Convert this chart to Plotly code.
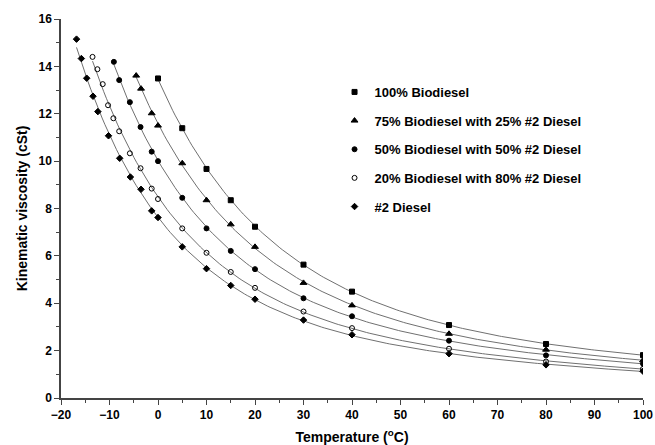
import numpy as np
import plotly.graph_objects as go

names = ["100% Biodiesel", "75% Biodiesel with 25% #2 Diesel",
         "50% Biodiesel with 50% #2 Diesel", "20% Biodiesel with 80% #2 Diesel",
         "#2 Diesel"]

t_b100 = [0, 5, 10, 15, 20, 30, 40, 60, 80, 100]
v_b100 = [13.49, 11.39, 9.67, 8.35, 7.23, 5.63, 4.49, 3.08, 2.28, 1.81]

t_b75 = [-4.5, -3.5, -1.3, 0, 5, 10, 15, 20, 30, 40, 60, 80, 100]
v_b75 = [13.61, 13.06, 12.02, 11.50, 9.91, 8.35, 7.33, 6.38, 4.86, 3.91, 2.71, 2.04, 1.59]

t_b50 = [-9.1, -8, -5.8, -3.6, -1.3, 0, 5, 10, 15, 20, 30, 40, 60, 80, 100]
v_b50 = [14.19, 13.42, 12.49, 11.44, 10.40, 10.0, 8.45, 7.16, 6.21, 5.44, 4.21, 3.45, 2.42, 1.80, 1.45]

t_b20 = [-13.5, -12.5, -11.4, -10.3, -9.2, -8, -5.8, -3.6, -1.3, 0, 5, 10, 15, 20, 30, 40, 60, 80, 100]
v_b20 = [14.40, 13.88, 13.25, 12.36, 11.81, 11.26, 10.33, 9.70, 8.84, 8.40, 7.16, 6.13, 5.32, 4.65, 3.65, 2.95, 2.08, 1.54, 1.23]

t_d2 = [-16.8, -15.8, -14.7, -13.4, -12.4, -10.2, -7.9, -5.7, -3.5, -1.3, 0, 5, 10, 15, 20, 30, 40, 60, 80, 100]
v_d2 = [15.15, 14.33, 13.5, 12.74, 12.09, 11.07, 10.12, 9.33, 8.81, 7.9, 7.62, 6.38, 5.46, 4.75, 4.17, 3.29, 2.67, 1.87, 1.40, 1.13]

x_ticks = list(range(-20, 101, 10))
y_ticks = list(range(0, 17, 2))

series = [(t_b100, v_b100), (t_b75, v_b75), (t_b50, v_b50), (t_b20, v_b20), (t_d2, v_d2)]
symbols = ["square", "triangle-up", "circle", "circle-open", "diamond"]
sizes = [5, 6, 5, 5, 5]

fig = go.Figure()
for (t, v), nm in zip(series, names):
    t = np.array(t, float); v = np.array(v, float)
    coef = np.polyfit(t, np.log(v), 3)
    tt = np.linspace(t.min(), t.max(), 200)
    fig.add_trace(go.Scatter(x=tt, y=np.exp(np.polyval(coef, tt)), mode="lines",
                             line=dict(color="#707070", width=1), showlegend=False,
                             hoverinfo="skip", legendgroup=nm))
for i, ((t, v), nm) in enumerate(zip(series, names)):
    fig.add_trace(go.Scatter(x=t, y=v, mode="markers", name=nm, legendgroup=nm,
                             marker=dict(symbol=symbols[i], size=sizes[i], color="black",
                                         line=dict(color="black", width=1))))

axis_common = dict(showgrid=False, zeroline=False, showline=True, linecolor="#444444",
                   linewidth=1.5, ticks="outside", ticklen=5, tickcolor="#444444",
                   automargin=False,
                   tickfont=dict(family="Liberation Sans", size=12, color="black", weight="bold"))
fig.update_layout(
    width=655, height=445,
    margin=dict(l=61, r=12, t=19, b=47, autoexpand=False),
    plot_bgcolor="white", paper_bgcolor="white",
    font=dict(family="Liberation Sans", size=12, color="black", weight="bold"),
    xaxis=dict(range=[-20, 100], tickvals=x_ticks,
               minor=dict(ticks="outside", ticklen=3, dtick=5, tickcolor="#444444"),
               title=dict(text="Temperature (<sup>o</sup>C)", standoff=12,
                          font=dict(size=14, weight="bold")), **axis_common),
    yaxis=dict(range=[0, 16], tickvals=y_ticks,
               minor=dict(ticks="outside", ticklen=3, dtick=1, tickcolor="#444444"),
               title=dict(text="Kinematic viscosity (cSt)", standoff=8,
                          font=dict(size=14, weight="bold")), **axis_common),
    legend=dict(x=0.47, y=0.847, xanchor="left", yanchor="top", tracegroupgap=8.75,
                font=dict(size=13, weight="bold"), itemwidth=30, bgcolor="rgba(0,0,0,0)"),
)
fig.write_html("out.html", config={"displayModeBar": False},
               post_script="document.body.style.margin='0';document.body.style.overflow='hidden';")
